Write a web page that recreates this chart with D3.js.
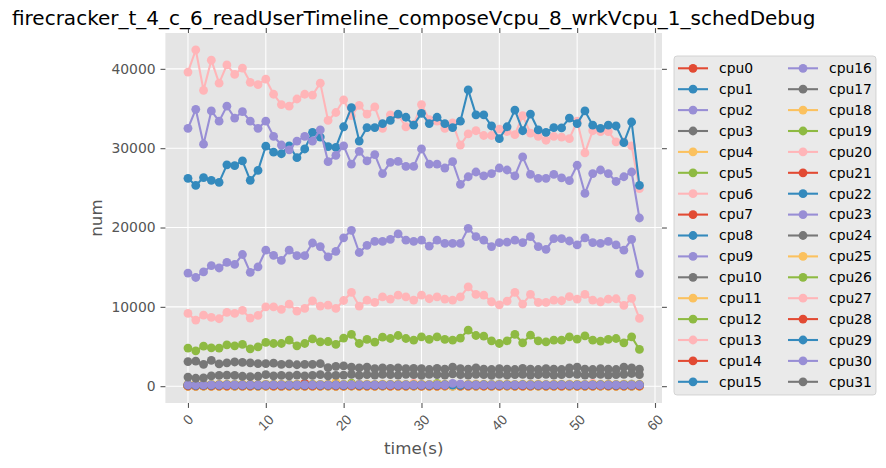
<!DOCTYPE html>
<html>
<head>
<meta charset="utf-8">
<script src="https://cdn.jsdelivr.net/npm/d3@7"></script>
<style>
  body { margin: 0; background: #fff; }
  svg { display: block; font-family: "DejaVu Sans", sans-serif; }
</style>
</head>
<body>
<svg id="chart"></svg>
<script>
// time axis
const times = [0,1,2,3,4,5,6,7,8,9,10,11,12,13,14,15,16,17,18,19,20,21,22,23,24,25,26,27,28,29,30,31,32,33,34,35,36,37,38,39,40,41,42,43,44,45,46,47,48,49,50,51,52,53,54,55,56,57,58];
const xTicks = [0, 10, 20, 30, 40, 50, 60];
const yTicks = [0, 10000, 20000, 30000, 40000];

// per-cpu values
const cpu0 = [30,20,40,25,30,35,20,45,30,25,40,30,20,35,40,25,30,45,30,20,35,60,40,25,30,35,50,30,40,25,30,35,20,40,30,120,45,30,25,35,40,30,25,45,30,35,25,40,30,20,35,30,40,25,35,30,25,40,30];
const cpu1 = [180,150,200,210,170,160,230,190,160,180,220,170,200,240,180,160,220,190,170,320,210,180,260,200,170,190,230,210,180,200,220,190,170,210,240,200,180,210,190,220,260,200,180,210,230,190,170,200,220,210,180,190,230,200,210,180,220,260,190];
const cpu2 = [110,100,130,120,110,140,120,110,130,100,120,140,110,130,120,110,140,130,120,110,130,120,140,110,120,130,110,120,140,130,110,120,130,140,120,260,130,120,110,130,140,120,110,130,120,140,110,120,130,140,120,110,130,120,140,130,120,110,130];
const cpu3 = [90,80,100,90,85,95,100,90,80,95,100,85,90,100,95,85,90,100,95,85,90,100,95,90,85,100,90,95,85,100,90,95,85,100,90,95,85,90,100,95,85,90,100,95,90,85,100,90,95,85,90,100,95,90,85,100,90,95,85];
const cpu4 = [10,5,15,10,5,10,15,5,10,5,15,10,5,10,15,10,5,10,15,5,10,40,15,10,5,10,15,10,5,10,15,5,10,15,10,5,10,15,5,10,15,10,5,10,15,10,5,10,15,5,10,15,10,5,10,15,10,5,10];
const cpu5 = [140,120,160,150,130,170,150,140,160,130,150,170,140,160,150,140,170,160,150,140,160,380,170,140,150,160,140,150,170,160,140,150,360,170,150,140,160,150,140,160,170,150,140,160,150,170,140,150,160,170,150,140,160,150,170,160,150,140,160];
const cpu6 = [200,180,210,190,200,220,190,210,200,180,210,220,200,190,210,200,220,190,210,200,190,220,210,200,190,210,220,200,190,380,210,200,190,220,210,200,190,210,220,200,190,210,200,220,190,210,200,190,220,210,200,190,370,200,220,190,210,200,190];
const cpu7 = [20,15,25,20,15,20,25,15,20,15,25,20,15,20,25,20,15,20,25,15,20,25,20,15,20,25,20,15,20,25,20,15,20,25,150,20,15,20,25,15,20,25,20,15,20,25,20,15,20,25,20,15,20,25,200,20,15,20,25];
const cpu8 = [60,50,70,60,55,65,70,60,50,65,70,55,60,70,65,55,60,70,65,55,60,90,65,60,55,70,60,65,55,70,60,65,55,70,60,65,55,60,70,65,55,60,70,65,60,55,70,60,65,55,60,70,65,60,55,70,60,65,55];
const cpu9 = [80,70,90,85,75,95,85,80,90,70,85,95,80,90,85,80,95,90,85,80,90,85,95,80,85,90,80,85,95,90,80,85,90,95,85,80,90,85,80,90,95,85,80,90,85,95,80,85,90,95,85,80,90,85,95,90,85,80,90];
const cpu10 = [50,40,60,55,45,65,55,50,60,40,55,65,50,60,55,50,65,60,55,50,60,55,65,50,55,60,50,55,65,60,50,55,60,65,55,50,60,55,50,60,65,55,50,60,55,65,50,55,60,65,55,50,60,55,65,60,55,50,60];
const cpu11 = [250,230,260,240,250,270,240,260,250,230,260,270,250,240,260,250,270,240,260,480,240,270,260,250,240,260,270,250,240,260,250,240,260,270,250,240,260,250,270,240,250,260,240,270,250,260,240,250,270,260,250,240,260,270,250,240,260,250,270];
const cpu12 = [30,25,35,30,25,30,35,25,30,25,35,30,25,30,35,30,25,30,35,25,30,35,30,25,30,35,30,25,30,35,30,25,30,35,30,25,30,35,30,25,30,35,30,25,30,35,30,25,30,35,30,25,30,35,30,25,30,35,30];
const cpu13 = [60,55,65,60,55,60,65,55,60,55,65,60,55,60,65,60,55,60,65,55,60,65,60,55,60,65,60,55,60,65,60,55,60,65,60,55,60,65,60,55,60,65,60,55,60,65,60,55,60,65,60,55,60,65,60,55,60,65,60];
const cpu14 = [120,100,130,110,120,140,110,130,120,100,130,140,120,110,130,350,140,110,130,120,110,140,130,120,110,130,140,120,110,130,120,110,130,140,120,110,130,120,140,110,120,130,110,140,120,130,110,120,140,130,120,110,130,140,120,110,130,120,140];
const cpu15 = [40,35,45,40,35,40,45,35,40,35,45,40,35,40,45,40,35,40,45,35,40,45,40,35,40,45,40,35,40,45,40,35,40,45,40,35,40,45,40,35,40,45,40,35,40,45,40,35,40,45,40,35,40,45,40,35,40,45,40];
const cpu16 = [14260,13700,14400,15200,14900,15600,15350,16600,14350,15050,17150,16500,15850,17150,16450,16450,18050,17600,16300,17000,18700,19650,16850,17750,18250,18250,18500,19200,18400,18250,18400,17650,18400,18000,18000,18000,19900,18850,18400,17600,18100,18150,18400,18100,18850,17600,17250,18600,18600,18300,17800,18700,18100,18000,18250,17800,17150,18500,14200];
const cpu17 = [70,60,80,70,65,75,80,70,60,75,80,65,70,80,75,65,70,80,75,65,70,80,75,70,65,80,70,75,65,80,70,75,65,80,70,75,65,70,80,75,65,70,80,75,70,65,80,70,75,65,70,80,75,70,65,80,70,75,65];
const cpu18 = [5,0,10,5,0,5,10,0,5,0,10,5,0,5,10,5,0,5,10,0,5,10,5,0,5,10,5,0,5,10,5,0,5,10,5,0,5,10,5,0,5,10,5,0,5,10,5,0,5,10,5,0,5,10,5,0,5,10,5];
const cpu19 = [160,150,170,160,150,160,170,150,160,150,170,160,150,160,170,160,150,160,170,150,160,170,160,150,160,170,160,150,160,170,160,150,160,170,160,150,160,170,160,150,160,170,160,150,160,170,160,150,160,170,160,150,160,170,160,150,160,170,160];
const cpu20 = [39600,42400,37300,41100,38200,40500,39300,40100,38300,38000,38700,36800,35500,35300,36200,36800,36700,38200,33500,34500,36100,34100,35400,34300,35200,32500,34200,34200,32700,33000,35500,33600,33400,32500,33200,30400,31800,32200,31600,31600,32400,32100,31700,34100,31900,31500,31000,31500,31400,31200,33400,29400,32200,32100,32100,30800,30800,30300,24900];
const cpu21 = [70,60,80,70,60,90,70,80,60,70,80,60,90,70,60,80,70,60,80,90,70,60,80,70,90,60,70,80,60,70,90,80,60,70,80,60,70,90,80,60,70,80,60,90,70,80,60,70,80,90,60,70,80,60,70,90,80,60,70];
const cpu22 = [26200,25300,26300,25950,25700,27900,27800,28400,25950,27200,30250,29500,29300,30300,28800,29900,32000,31400,30200,30100,32700,35100,30900,32600,32600,33100,33500,34300,33900,32900,34400,33100,33900,33100,32600,33400,37350,34200,34200,32800,31200,32700,34800,32200,34300,32300,32000,32600,32550,33800,33100,34700,32900,32500,32900,32800,30700,33300,25300];
const cpu23 = [32500,34900,30500,34700,33400,35300,33800,34600,33400,32500,33400,31500,30400,29800,30900,31500,30900,32300,28300,29100,30300,28000,29600,28400,29200,26800,28200,28350,27700,27700,29900,28000,28000,27500,28300,25450,26400,27000,26500,26800,27500,27250,26500,28900,26700,26200,26200,26700,26250,25900,27850,24300,26800,27250,26800,25800,26400,27000,21200];
const cpu24 = [3100,3150,2750,3250,2800,2950,3050,3000,2950,2850,2850,2900,2750,2800,2700,2750,2750,2850,2350,2500,2550,2400,2300,2400,2200,2300,2250,2300,2200,2250,2200,2100,2250,2150,2400,2200,2150,2300,2150,2100,2200,2150,2100,2250,2150,2100,2200,2150,2100,2300,2400,2150,2100,2200,2150,2100,2400,2300,2150];
const cpu25 = [20,10,30,20,10,20,30,10,20,10,30,20,10,20,30,20,10,20,30,10,20,30,20,10,20,30,20,10,20,30,20,10,20,30,20,10,20,30,20,10,20,30,20,10,20,30,20,10,20,30,20,10,20,30,20,10,20,30,20];
const cpu26 = [4800,4460,5050,4840,4800,5210,5090,5260,4710,4960,5510,5380,5380,5800,5090,5380,5970,5590,5630,5260,6060,6520,5380,5890,5550,6180,6010,6390,6010,5800,6220,5890,6220,5890,5800,6060,7070,6390,6310,5720,5380,5720,6520,5470,6430,5720,5590,5800,5800,6220,5930,6350,5800,5680,5890,6010,5470,6220,4630];
const cpu27 = [9170,8330,8960,8670,8500,9300,9170,9550,8580,8920,10000,10000,9680,10350,9460,9800,10760,10100,10220,9800,10800,11820,10100,10850,10560,11270,10980,11480,11270,10850,11480,11020,11270,10980,10850,11270,12530,11570,11480,10640,10260,10720,11820,10350,11570,10560,10560,10850,10770,11300,10980,11570,10850,10640,10980,11020,10180,11060,8540];
const cpu28 = [50,40,60,50,40,50,60,40,50,40,60,50,40,50,60,50,40,50,60,40,50,60,50,40,50,60,50,40,50,60,50,40,50,60,250,40,50,60,50,40,50,60,50,40,50,60,50,40,50,60,50,40,50,60,50,40,50,60,50];
const cpu29 = [130,110,140,120,130,150,120,140,130,110,140,150,130,120,140,130,150,120,140,130,120,150,140,130,120,140,150,130,120,140,130,120,140,150,130,120,140,130,150,120,130,140,120,150,130,140,120,130,150,140,130,120,140,150,130,120,140,130,150];
const cpu30 = [160,150,170,160,150,170,160,150,170,160,150,170,160,150,170,160,150,170,160,150,170,160,180,160,150,170,160,150,170,160,150,170,160,150,350,260,170,160,150,170,160,150,170,160,150,170,160,150,170,160,150,170,160,150,170,160,150,170,160];
const cpu31 = [1150,1000,1050,1300,1350,1400,1350,1250,1200,1250,1450,1300,1350,1300,1400,1300,1350,1450,1300,1350,1400,1500,1350,1450,1400,1500,1450,1400,1500,1450,1350,1500,1450,1400,1550,1450,1400,1500,1450,1350,1500,1400,1450,1500,1400,1450,1500,1400,1450,1550,1500,1400,1450,1500,1400,1450,1500,1600,1450];

const cpuNames = ["cpu0","cpu1","cpu2","cpu3","cpu4","cpu5","cpu6","cpu7","cpu8","cpu9","cpu10","cpu11","cpu12","cpu13","cpu14","cpu15","cpu16","cpu17","cpu18","cpu19","cpu20","cpu21","cpu22","cpu23","cpu24","cpu25","cpu26","cpu27","cpu28","cpu29","cpu30","cpu31"];
const cpuValues = [cpu0,cpu1,cpu2,cpu3,cpu4,cpu5,cpu6,cpu7,cpu8,cpu9,cpu10,cpu11,cpu12,cpu13,cpu14,cpu15,cpu16,cpu17,cpu18,cpu19,cpu20,cpu21,cpu22,cpu23,cpu24,cpu25,cpu26,cpu27,cpu28,cpu29,cpu30,cpu31];

// ggplot colour cycle
const palette = ["#E24A33","#348ABD","#988ED5","#777777","#FBC15E","#8EBA42","#FFB5B8"];

const w = 886;
const h = 468;
const plot = { left: 165.4, right: 662, top: 33, bottom: 403 };
const markerR = 4.4;

const svg = d3
  .select("#chart")
  .attr("width", w)
  .attr("height", h);

svg.append("rect").attr("width", w).attr("height", h).attr("fill", "#fff");

// scales with matplotlib's 5% margins
const xMin = d3.min(times), xMax = d3.max(times);
const xPad = (xMax - xMin) * 0.05;
const xScale = d3
  .scaleLinear()
  .domain([xMin - xPad, xMax + xPad])
  .range([plot.left, plot.right]);

const yMax = d3.max(cpuValues, (s) => d3.max(s));
const yMin = d3.min(cpuValues, (s) => d3.min(s));
const yPad = (yMax - yMin) * 0.05;
const yScale = d3
  .scaleLinear()
  .domain([yMin - yPad, yMax + yPad])
  .range([plot.bottom, plot.top]);

//background + grid
svg
  .append("rect")
  .attr("x", plot.left)
  .attr("y", plot.top)
  .attr("width", plot.right - plot.left)
  .attr("height", plot.bottom - plot.top)
  .attr("fill", "#E5E5E5");

const grid = svg.append("g").attr("stroke", "#fff").attr("stroke-width", 1.1);
grid
  .selectAll(".gx")
  .data(xTicks)
  .enter()
  .append("line")
  .attr("x1", (d) => xScale(d))
  .attr("x2", (d) => xScale(d))
  .attr("y1", plot.top)
  .attr("y2", plot.bottom);
grid
  .selectAll(".gy")
  .data(yTicks)
  .enter()
  .append("line")
  .attr("y1", (d) => yScale(d))
  .attr("y2", (d) => yScale(d))
  .attr("x1", plot.left)
  .attr("x2", plot.right);

//axes (ticks on all four sides)
const tickLen = 4.9;
const styleAxis = (g) => {
  g.select(".domain").remove();
  g.selectAll(".tick line").attr("stroke", "#555").attr("stroke-width", 1.1);
  g.selectAll("text")
    .attr("fill", "#555")
    .style("font-size", "13.9px")
    .style("font-family", "DejaVu Sans");
};

svg
  .append("g")
  .attr("transform", `translate(${plot.left},0)`)
  .call(d3.axisLeft(yScale).tickValues(yTicks).tickSize(tickLen).tickPadding(4.9).tickFormat(d3.format("d")))
  .call(styleAxis);

svg
  .append("g")
  .attr("transform", `translate(${plot.right},0)`)
  .call(d3.axisRight(yScale).tickValues(yTicks).tickSize(tickLen).tickFormat(""))
  .call(styleAxis);

svg
  .append("g")
  .attr("transform", `translate(0,${plot.top})`)
  .call(d3.axisTop(xScale).tickValues(xTicks).tickSize(tickLen).tickFormat(""))
  .call(styleAxis);

const xAxisG = svg
  .append("g")
  .attr("transform", `translate(0,${plot.bottom})`)
  .call(d3.axisBottom(xScale).tickValues(xTicks).tickSize(tickLen).tickFormat(""))
  .call(styleAxis);

// rotated x labels, centred under each tick
xAxisG
  .selectAll(".xlab")
  .data(xTicks)
  .enter()
  .append("text")
  .attr("class", "xlab")
  .attr("transform", (d) => {
    const len = String(d).length * 8.85;
    const half = (len + 10) / 2 / Math.SQRT2;
    return `translate(${xScale(d)},${tickLen + 4.9 + half}) rotate(-45)`;
  })
  .attr("text-anchor", "middle")
  .attr("dy", "0.35em")
  .attr("fill", "#555")
  .style("font-size", "13.9px")
  .text((d) => d);

//series: line then markers, in cpu order
const line = d3
  .line()
  .x((d, i) => xScale(times[i]))
  .y((d) => yScale(d));

cpuValues.forEach((vals, k) => {
  const color = palette[k % palette.length];
  const g = svg.append("g").attr("class", "series");
  g.append("path")
    .datum(vals)
    .attr("fill", "none")
    .attr("stroke", color)
    .attr("stroke-width", 2.08)
    .attr("stroke-linejoin", "round")
    .attr("d", line);
  g.selectAll("circle")
    .data(vals)
    .enter()
    .append("circle")
    .attr("cx", (d, i) => xScale(times[i]))
    .attr("cy", (d) => yScale(d))
    .attr("r", markerR)
    .attr("fill", color);
});

//title + axis labels
svg
  .append("text")
  .attr("x", (plot.left + plot.right) / 2)
  .attr("y", 24.5)
  .attr("text-anchor", "middle")
  .attr("fill", "#000")
  .style("font-size", "20px")
  .text("firecracker_t_4_c_6_readUserTimeline_composeVcpu_8_wrkVcpu_1_schedDebug");

svg
  .append("text")
  .attr("x", (plot.left + plot.right) / 2)
  .attr("y", 454)
  .attr("text-anchor", "middle")
  .attr("fill", "#555")
  .style("font-size", "16.7px")
  .text("time(s)");

svg
  .append("text")
  .attr("transform", `translate(102,${(plot.top + plot.bottom) / 2}) rotate(-90)`)
  .attr("text-anchor", "middle")
  .attr("fill", "#555")
  .style("font-size", "16.7px")
  .text("num");

//legend, two columns of 16
const legend = svg.append("g").attr("class", "legend");
legend
  .append("rect")
  .attr("x", 674)
  .attr("y", 56)
  .attr("width", 202)
  .attr("height", 339)
  .attr("rx", 3)
  .attr("fill", "#E5E5E5")
  .attr("fill-opacity", 0.8)
  .attr("stroke", "#CCCCCC")
  .attr("stroke-opacity", 0.8);

const rowH = 20.9;
const items = legend
  .selectAll(".item")
  .data(cpuNames)
  .enter()
  .append("g")
  .attr("class", "item")
  .attr("transform", (d, i) => {
    const col = Math.floor(i / 16);
    const row = i % 16;
    return `translate(${678 + col * 110},${68.3 + row * rowH})`;
  });

items
  .append("line")
  .attr("x1", 0)
  .attr("x2", 30)
  .attr("stroke", (d, i) => palette[i % palette.length])
  .attr("stroke-width", 2.08);
items
  .append("circle")
  .attr("cx", 15)
  .attr("r", markerR)
  .attr("fill", (d, i) => palette[i % palette.length]);
items
  .append("text")
  .attr("x", 41)
  .attr("dy", "0.35em")
  .attr("fill", "#000")
  .style("font-size", "13.9px")
  .text((d) => d);
</script>
</body>
</html>
